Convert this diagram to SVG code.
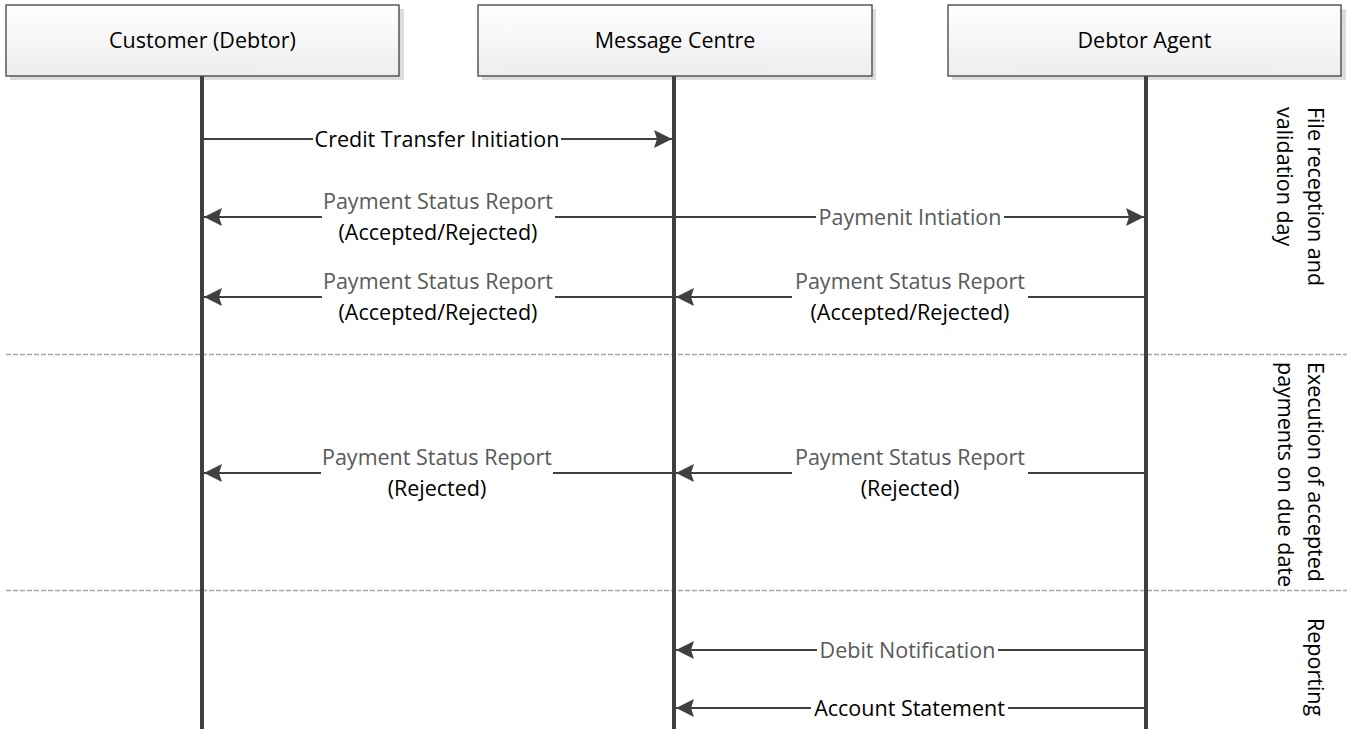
<svg xmlns="http://www.w3.org/2000/svg" width="1347" height="729" viewBox="0 0 1347 729">
<style>
.box{fill:url(#boxfill);stroke:#404040;stroke-width:1.3}
.shadow{fill:#dcdcdc}
.life{stroke:#404040;stroke-width:4}
.msg{stroke:#404040;stroke-width:2;fill:none}
.sep{stroke:#a6a6a6;stroke-width:1.3;stroke-dasharray:5 2;fill:none}
text{font-family:"Open Sans","Noto Sans","Liberation Sans",sans-serif;font-size:21.5px;fill:#000}
.c{text-anchor:middle}
.g{fill:#595959}
</style>
<defs>
<linearGradient id="boxfill" x1="0" y1="0" x2="0" y2="1">
<stop offset="0" stop-color="#ffffff"/>
<stop offset="1" stop-color="#ededed"/>
</linearGradient>
<marker id="ah" markerUnits="userSpaceOnUse" viewBox="0 0 18 18" refX="18" refY="9" markerWidth="18" markerHeight="18" orient="auto">
<path d="M0,0 L18,9 L0,18 L3,9 Z" fill="#404040"/>
</marker>
</defs>
<rect width="1347" height="729" fill="#ffffff"/>

<g id="phases">
<path class="sep" d="M6,354.5 H1347"/>
<path class="sep" d="M6,590.5 H1347"/>
<text transform="translate(1308,107) rotate(90)">File reception and<tspan x="0" y="31">validation day</tspan></text>
<text transform="translate(1307.5,362) rotate(90)">Execution of accepted<tspan x="0" y="30">payments on due date</tspan></text>
<text transform="translate(1307.5,618) rotate(90)">Reporting</text>
</g>

<g id="customer">
<rect class="shadow" x="10" y="9" width="394" height="71"/>
<rect class="box" x="6" y="5" width="393" height="71"/>
<line class="life" x1="202" y1="76" x2="202" y2="729"/>
<text class="c" x="202.5" y="48">Customer (Debtor)</text>
</g>

<g id="message-centre">
<rect class="shadow" x="482" y="9" width="394" height="71"/>
<rect class="box" x="478" y="5" width="394" height="71"/>
<line class="life" x1="674" y1="76" x2="674" y2="729"/>
<text class="c" x="675" y="48">Message Centre</text>
</g>

<g id="debtor-agent">
<rect class="shadow" x="952" y="9" width="394" height="71"/>
<rect class="box" x="948" y="5" width="393" height="71"/>
<line class="life" x1="1146" y1="76" x2="1146" y2="729"/>
<text class="c" x="1144.5" y="48">Debtor Agent</text>
</g>

<g id="connectors">
<path class="msg" d="M204,139 H313"/>
<path class="msg" d="M561,139 H672" marker-end="url(#ah)"/>
<text class="c" x="437" y="146.5">Credit Transfer Initiation</text>

<path class="msg" d="M322,217 H204" marker-end="url(#ah)"/>
<path class="msg" d="M555,217 H672"/>
<text class="c g" x="438" y="209">Payment Status Report</text>
<text class="c" x="438" y="240">(Accepted/Rejected)</text>

<path class="msg" d="M676,217 H816"/>
<path class="msg" d="M1004,217 H1144" marker-end="url(#ah)"/>
<text class="c g" x="910" y="224.5">Paymenit Intiation</text>

<path class="msg" d="M322,297 H204" marker-end="url(#ah)"/>
<path class="msg" d="M555,297 H672"/>
<text class="c g" x="438" y="289">Payment Status Report</text>
<text class="c" x="438" y="320">(Accepted/Rejected)</text>

<path class="msg" d="M792,297 H676" marker-end="url(#ah)"/>
<path class="msg" d="M1028,297 H1144"/>
<text class="c g" x="910" y="289">Payment Status Report</text>
<text class="c" x="910" y="320">(Accepted/Rejected)</text>

<path class="msg" d="M321,473 H204" marker-end="url(#ah)"/>
<path class="msg" d="M553,473 H672"/>
<text class="c g" x="437" y="465">Payment Status Report</text>
<text class="c" x="437" y="496">(Rejected)</text>

<path class="msg" d="M792,473 H676" marker-end="url(#ah)"/>
<path class="msg" d="M1028,473 H1144"/>
<text class="c g" x="910" y="465">Payment Status Report</text>
<text class="c" x="910" y="496">(Rejected)</text>

<path class="msg" d="M817,650 H676" marker-end="url(#ah)"/>
<path class="msg" d="M998,650 H1144"/>
<text class="c g" x="907.5" y="657.5">Debit Notification</text>

<path class="msg" d="M811,708 H676" marker-end="url(#ah)"/>
<path class="msg" d="M1008,708 H1144"/>
<text class="c" x="909.5" y="715.5">Account Statement</text>
</g>
</svg>
